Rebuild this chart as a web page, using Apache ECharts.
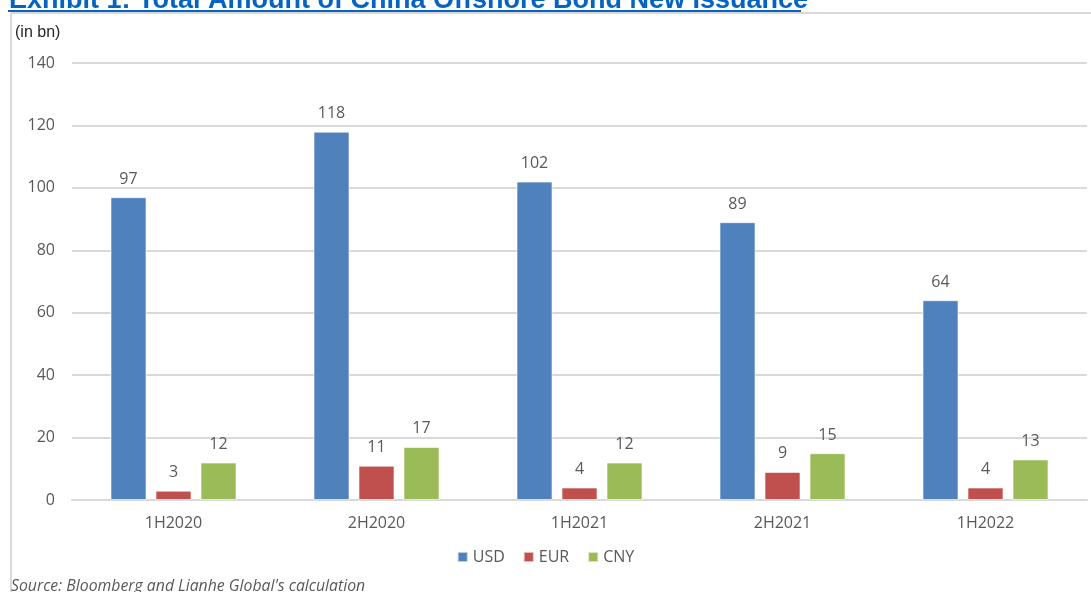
<!DOCTYPE html>
<html>
<head>
<meta charset="utf-8">
<script src="https://cdn.jsdelivr.net/npm/echarts@6/dist/echarts.min.js"></script>
<style>
  html, body { margin: 0; padding: 0; background: #ffffff; }
  #chart { width: 1091px; height: 592px; }
</style>
</head>
<body>
<div id="chart"></div>
<script>
// Half-year periods
const categories = ['1H2020', '2H2020', '1H2021', '2H2021', '1H2022'];
// New issuance by currency, in bn
const usd = [97, 118, 102, 89, 64];
const eur = [3, 11, 4, 9, 4];
const cny = [12, 17, 12, 15, 13];
// Value axis ticks
const yMin = 0;
const yMax = 140;
const yStep = 20;

const FONT = '"Open Sans", "Liberation Sans", sans-serif';
const GREY_TEXT = '#595959';

const chart = echarts.init(document.getElementById('chart'), null, { renderer: 'canvas' });

function barSeries(name, data, color) {
  return {
    name: name,
    type: 'bar',
    data: data,
    barWidth: 36,
    barGap: '25%',
    itemStyle: { color: color, borderColor: 'rgba(255,255,255,0.6)', borderWidth: 1 },
    label: {
      show: true,
      position: 'top',
      distance: 10,
      color: GREY_TEXT,
      fontFamily: FONT,
      fontSize: 16
    }
  };
}

chart.setOption({
  animation: false,
  backgroundColor: '#ffffff',
  grid: { left: 72, right: 4, top: 63, bottom: 92, containLabel: false },
  xAxis: {
    type: 'category',
    data: categories,
    axisLine: { show: true, lineStyle: { color: '#d9d9d9', width: 2 } },
    axisTick: { show: false },
    axisLabel: { color: GREY_TEXT, fontFamily: FONT, fontSize: 16, margin: 15 }
  },
  yAxis: {
    type: 'value',
    min: yMin,
    max: yMax,
    interval: yStep,
    axisLine: { show: false },
    axisTick: { show: false },
    axisLabel: { color: GREY_TEXT, fontFamily: FONT, fontSize: 16, margin: 17 },
    splitLine: { lineStyle: { color: '#d9d9d9', width: 2 } }
  },
  legend: {
    data: ['USD', 'EUR', 'CNY'],
    bottom: 22,
    left: 'center',
    itemWidth: 10,
    itemHeight: 10,
    itemGap: 18,
    icon: 'rect',
    textStyle: { color: GREY_TEXT, fontFamily: FONT, fontSize: 16 }
  },
  series: [
    barSeries('USD', usd, '#4f81bd'),
    barSeries('EUR', eur, '#c0504d'),
    barSeries('CNY', cny, '#9bbb59')
  ],
  graphic: [
    // frame lines
    { type: 'line', shape: { x1: 11, y1: 13, x2: 1091, y2: 13 }, style: { stroke: '#d9d9d9', lineWidth: 2 }, z: 10 },
    { type: 'line', shape: { x1: 11, y1: 13, x2: 11, y2: 592 }, style: { stroke: '#d9d9d9', lineWidth: 2 }, z: 10 },
    // heading
    {
      type: 'text', left: 9, top: -13, z: 11,
      style: {
        text: 'Exhibit 1: Total Amount of China Offshore Bond New Issuance',
        fill: '#0563c1',
        font: 'bold 27px "Liberation Sans", Arial, sans-serif'
      }
    },
    { type: 'line', shape: { x1: 8, y1: 11, x2: 801, y2: 11 }, style: { stroke: '#0563c1', lineWidth: 2 }, z: 11 },
    // unit note
    {
      type: 'text', left: 15, top: 25, z: 11,
      style: { text: '(in bn)', fill: '#262626', font: '16px "Liberation Sans Narrow", "Liberation Sans", sans-serif' }
    },
    // source note
    {
      type: 'text', left: 11, top: 578, z: 11,
      style: { text: "Source: Bloomberg and Lianhe Global's calculation", fill: GREY_TEXT, font: 'italic 15.8px "Open Sans", sans-serif' }
    }
  ]
});
</script>
</body>
</html>
